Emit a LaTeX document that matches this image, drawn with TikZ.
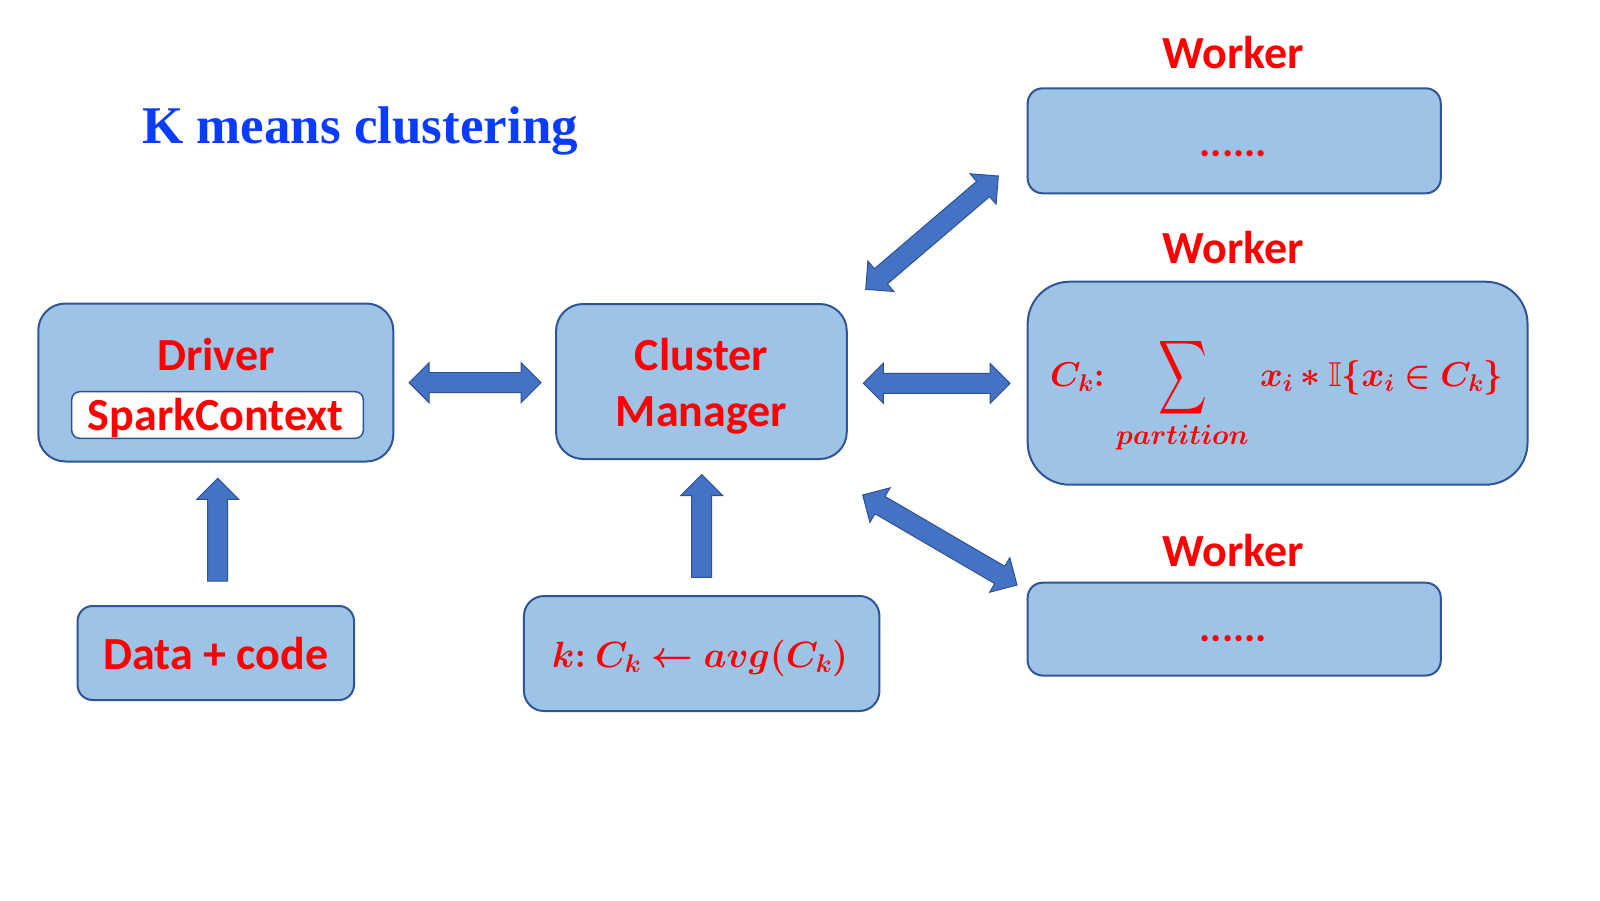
\RequirePackage{fix-cm}
\documentclass[tikz,border=0pt]{standalone}
\usepackage{fontspec}
\usepackage{amsmath,amssymb,bm,graphicx}
\setmainfont{Liberation Serif}
\newfontfamily\calib{Carlito}
\usetikzlibrary{calc}
\definecolor{boxfill}{HTML}{9DC3E6}
\definecolor{boxline}{HTML}{2F5597}
\definecolor{arrfill}{HTML}{4472C4}
\definecolor{arrline}{HTML}{2F528F}
\definecolor{titleblue}{HTML}{0A3CFF}
\definecolor{myred}{HTML}{FF0000}
\tikzset{
  box/.style={draw=boxline, fill=boxfill, line width=2pt, rounded corners=#1, inner sep=0pt, outer sep=0pt},
  lbl/.style={text=myred, font=\calib\bfseries\fontsize{46}{50}\selectfont, anchor=base, inner sep=0pt},
  dots/.style={text=myred, font=\calib\bfseries\fontsize{42}{44}\selectfont, anchor=base, inner sep=0pt},
  mathlbl/.style={text=myred, anchor=base west, inner sep=0pt},
  blk/.style={fill=arrfill, draw=arrline, line width=1pt, line join=miter},
}
\newcommand{\dblarr}[2]{%
  \coordinate (pa) at ($(#1)!20pt!(#2)$);
  \coordinate (pb) at ($(#2)!20pt!(#1)$);
  \draw[blk] (#1) -- ($(pa)!20pt!90:(#2)$) -- ($(pa)!10pt!90:(#2)$) -- ($(pb)!10pt!90:(#2)$) -- ($(pb)!20pt!90:(#2)$) -- (#2)
    -- ($(pb)!20pt!-90:(#2)$) -- ($(pb)!10pt!-90:(#2)$) -- ($(pa)!10pt!-90:(#2)$) -- ($(pa)!20pt!-90:(#2)$) -- cycle;}
\newcommand{\onearr}[2]{%
  \coordinate (pb) at ($(#2)!21pt!(#1)$);
  \draw[blk] ($(#1)!10pt!90:(#2)$) -- ($(pb)!10pt!90:(#2)$) -- ($(pb)!21pt!90:(#2)$) -- (#2)
    -- ($(pb)!21pt!-90:(#2)$) -- ($(pb)!10pt!-90:(#2)$) -- ($(#1)!10pt!-90:(#2)$) -- cycle;}
\newcommand{\bigsum}{\mathop{\vcenter{\hbox{\scalebox{0.98}[1.5]{$\displaystyle\sum$}}}}}
\newcommand{\sublbl}[1]{\mbox{\fontsize{28}{30}\selectfont$\bm{#1}$}}
\begin{document}
\begin{tikzpicture}[x=1pt,y=-1pt]
\useasboundingbox[fill=white] (0,0) rectangle (1600,900);

% title
\node[font=\bfseries\fontsize{53}{60}\selectfont, text=titleblue, anchor=base west, inner sep=0pt] (title) at (142,143.3) {K means clustering};

% boxes
\node[box=27pt, minimum width=355, minimum height=158] (driver) at (215.8,382.5) {};
\node[draw=boxline, fill=white, line width=1.5pt, rounded corners=8pt, minimum width=291.6, minimum height=46.6, inner sep=0pt] (spark) at (217.5,415) {};
\node[box=27pt, minimum width=290.7, minimum height=155] (cm) at (701.4,381.5) {};
\node[box=15pt, minimum width=276.4, minimum height=94] (data) at (215.8,653) {};
\node[box=20pt, minimum width=355.5, minimum height=115] (kbox) at (701.7,653.5) {};
\node[box=15pt, minimum width=413.1, minimum height=105] (w1) at (1234.2,140.8) {};
\node[box=42pt, minimum width=499.8, minimum height=203] (w2) at (1277.6,383.2) {};
\node[box=15pt, minimum width=413.1, minimum height=92.8] (w3) at (1234.2,629.1) {};

% labels
\node[lbl] (drvlab) at (215.8,370) {Driver};
\node[lbl] (sparklab) at (215.8,430.5) {SparkContext};
\node[lbl] (cmlab1) at (701.4,370) {Cluster};
\node[lbl] (cmlab2) at (701.4,426) {Manager};
\node[lbl] (datalab) at (215.8,669) {Data + code};
\node[lbl] (wl1) at (1233.3,68.3) {Worker};
\node[lbl] (wl2) at (1233.3,263) {Worker};
\node[lbl] (wl3) at (1233.3,566) {Worker};
\node[dots] (d1) at (1233.3,156.7) {......};
\node[dots] (d3) at (1233.3,641) {......};

% formulas
\node[mathlbl, anchor=base, font=\fontsize{36.5}{44}\selectfont] (kform) at (700,667.3) {$\bm{k}{\bm{:}}\ \bm{C_k} \bm{\leftarrow} \bm{avg}\bm{(}\bm{C_k}\bm{)}$};
\node[mathlbl, font=\fontsize{34.5}{44}\selectfont] (wform) at (1050,386.7) {$\bm{C_k}{\bm{:}}\,\bigsum\limits_{\sublbl{partition}}\, \bm{x_i} \bm{*} \mathbb{I}\bm{\{}\bm{x_i} \bm{\in} \bm{C_k}\bm{\}}$};

% arrow end points
\coordinate (a1s) at (409,382.7);
\coordinate (a1e) at (541,382.7);
\coordinate (a2s) at (863.3,383.3);
\coordinate (a2e) at (1010,383.3);
\coordinate (a3s) at (865.7,289.3);
\coordinate (a3e) at (998.3,176);
\coordinate (a4s) at (862.7,495);
\coordinate (a4e) at (1017,585);
\coordinate (u1s) at (217.7,581);
\coordinate (u1e) at (217.7,478.3);
\coordinate (u2s) at (701.7,577.3);
\coordinate (u2e) at (701.7,474.5);

\dblarr{a1s}{a1e}
\dblarr{a2s}{a2e}
\dblarr{a3s}{a3e}
\dblarr{a4s}{a4e}
\onearr{u1s}{u1e}
\onearr{u2s}{u2e}
\end{tikzpicture}
\end{document}
